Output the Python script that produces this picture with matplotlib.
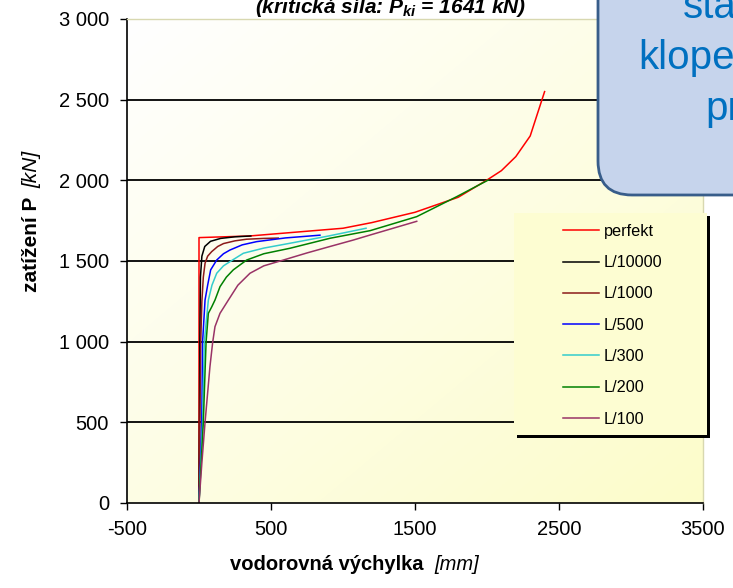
import matplotlib

matplotlib.use("Agg")
import matplotlib.pyplot as plt
import numpy as np
from matplotlib.colors import LinearSegmentedColormap
from matplotlib.patches import FancyBboxPatch, Rectangle

plt.rcParams["font.family"] = ["Liberation Sans", "DejaVu Sans"]
plt.rcParams["mathtext.fontset"] = "custom"
plt.rcParams["mathtext.it"] = "Liberation Sans:italic:bold"
plt.rcParams["mathtext.rm"] = "Liberation Sans:italic:bold"

W, H = 733, 588

# load-deflection curves: horizontal deflection [mm], load P [kN]
labels = ["perfekt", "L/10000", "L/1000", "L/500", "L/300", "L/200", "L/100"]
colors = ["#ff0000", "#000000", "#8b1a1a", "#0000ff", "#33cccc", "#008000", "#993366"]

x_perfekt = [0, 0, 350, 1000, 1200, 1500, 1800, 2000, 2100, 2200, 2300, 2400]
p_perfekt = [0, 1645, 1655, 1703, 1738, 1802, 1895, 2002, 2060, 2147, 2275, 2550]

x_10000 = [0, 3, 6, 10, 20, 40, 80, 150, 250, 360]
p_10000 = [0, 500, 1000, 1400, 1530, 1590, 1622, 1640, 1650, 1655]

x_1000 = [0, 6, 12, 20, 30, 42, 60, 88, 130, 170, 250, 330, 450, 550]
p_1000 = [0, 500, 1000, 1250, 1400, 1486, 1530, 1558, 1590, 1608, 1625, 1635, 1640, 1642]

x_500 = [0, 10, 19, 25, 42, 60, 81, 123, 170, 215, 300, 400, 600, 840]
p_500 = [0, 250, 500, 1000, 1258, 1350, 1445, 1506, 1545, 1568, 1600, 1620, 1643, 1660]

x_300 = [0, 25, 37, 65, 90, 123, 170, 215, 308, 450, 632, 900, 1160]
p_300 = [0, 500, 1000, 1258, 1350, 1424, 1470, 1496, 1548, 1580, 1610, 1655, 1703]

x_200 = [0, 30, 49, 65, 88, 111, 146, 190, 238, 331, 450, 632, 910, 1188, 1512, 1790, 2009]
p_200 = [0, 500, 996, 1176, 1215, 1258, 1341, 1400, 1445, 1506, 1545, 1579, 1641, 1688, 1775, 1899, 2002]

x_100 = [0, 20, 42, 76, 95, 111, 146, 204, 270, 354, 450, 586, 750, 910, 1072, 1188, 1512]
p_100 = [0, 250, 500, 845, 996, 1093, 1176, 1258, 1350, 1424, 1470, 1506, 1550, 1590, 1630, 1661, 1746]

series_x = [x_perfekt, x_10000, x_1000, x_500, x_300, x_200, x_100]
series_p = [p_perfekt, p_10000, p_1000, p_500, p_300, p_200, p_100]

x_ticks = [-500, 500, 1500, 2500, 3500]
y_ticks = [0, 500, 1000, 1500, 2000, 2500, 3000]
y_tick_labels = ["0", "500", "1 000", "1 500", "2 000", "2 500", "3 000"]

fig = plt.figure(figsize=(W / 100, H / 100), dpi=100)
fig.patch.set_facecolor("white")
ax = fig.add_axes([127 / W, 1 - 503 / H, 576 / W, 484 / H])

# plot area: white top-left fading to pale yellow bottom-right
n = 200
gx, gy = np.meshgrid(np.linspace(0, 1, n), np.linspace(0, 1, n))
grad = (gx + (1 - gy)) / 2
cmap = LinearSegmentedColormap.from_list("bg", ["#ffffff", "#fcfcca"])
ax.imshow(grad, extent=[0, 1, 0, 1], transform=ax.transAxes, origin="lower",
          aspect="auto", cmap=cmap, zorder=0)

for yv in y_ticks[1:-1]:
    ax.axhline(yv, color="black", lw=1.3, zorder=1)

for xs, ps, c, lab in zip(series_x, series_p, colors, labels):
    ax.plot(xs, ps, color=c, lw=1.1, label=lab, zorder=2)

ax.set_xlim(-500, 3500)
ax.set_ylim(0, 3000)
ax.set_xticks(x_ticks)
ax.set_xticklabels([str(v) for v in x_ticks])
ax.set_yticks(y_ticks)
ax.set_yticklabels(y_tick_labels)
ax.tick_params(axis="both", direction="out", length=5, width=1, colors="black",
               labelsize=14.5)
ax.tick_params(axis="x", pad=7)
ax.tick_params(axis="y", pad=8)
for side in ("left", "bottom"):
    ax.spines[side].set_color("black")
    ax.spines[side].set_linewidth(1.2)
for side in ("top", "right"):
    ax.spines[side].set_color("#d8d8b0")
    ax.spines[side].set_linewidth(1)

# legend box with hard black shadow
to_ax = lambda px, py: ((px - 127) / 576, (503 - py) / 484)
lx0, ly1 = to_ax(514, 435)
lx1, ly0 = to_ax(707, 213)
sx, sy = 3 / 576, 3 / 484
ax.add_patch(Rectangle((lx0 + sx, ly1 - sy), lx1 - lx0, ly0 - ly1, transform=ax.transAxes,
                       facecolor="black", edgecolor="none", zorder=4, clip_on=False))
ax.add_patch(Rectangle((lx0, ly1), lx1 - lx0, ly0 - ly1, transform=ax.transAxes,
                       facecolor="#fdfdd2", edgecolor="none", zorder=5, clip_on=False))
hx, hy = to_ax(563, 224)
leg = ax.legend(loc="upper left", bbox_to_anchor=(hx, hy), frameon=False,
                borderpad=0, borderaxespad=0, handlelength=2.2, handletextpad=0.3,
                labelspacing=1.0, fontsize=11.7)
leg.set_zorder(6)


def rich_text(x_px, y_px, parts, rotation=0, gap=0):
    """Place consecutive text pieces with different styles (pixel coords from top-left)."""
    renderer = fig.canvas.get_renderer()
    x, y = x_px, H - y_px
    for s, kw in parts:
        t = fig.text(x / W, y / H, s, rotation=rotation, rotation_mode="anchor",
                     ha="left", va="baseline", **kw)
        bb = t.get_window_extent(renderer)
        if rotation == 90:
            y = bb.y1 + gap
        else:
            x = bb.x1 + gap


rich_text(230, 570, [("vodorovná výchylka", dict(fontsize=14.5, fontweight="bold")),
                     ("[mm]", dict(fontsize=14.5, fontstyle="italic"))], gap=11)
rich_text(37, 292, [("zatížení P", dict(fontsize=15, fontweight="bold")),
                    ("[kN]", dict(fontsize=15, fontstyle="italic"))], rotation=90, gap=9)

fig.text(391 / W, 1 - 13 / H, r"(kritická síla: $P_{ki}$ = 1641 kN)", ha="center",
         va="baseline", fontsize=15, fontweight="bold", fontstyle="italic")

# callout box in the top-right corner (mostly outside the image)
box = FancyBboxPatch((598, H - 195), 260, 320, boxstyle="round,pad=0,rounding_size=34",
                     transform=None, facecolor="#c6d4ec", edgecolor="#385d8a", lw=2,
                     zorder=5)
fig.add_artist(box)
for s, xp, yp in [("stability", 683, 18), ("klopením", 638, 69), ("prutu", 705, 120)]:
    fig.text(xp / W, 1 - yp / H, s, ha="left", va="baseline", fontsize=29,
             color="#0070c0", zorder=6)

fig.savefig("out.png", dpi=100)
